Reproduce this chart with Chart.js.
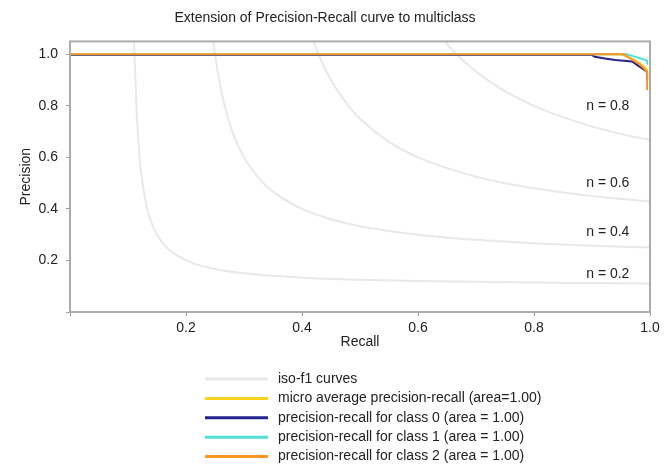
<!DOCTYPE html>
<html>
<head>
<meta charset="utf-8">
<script src="https://cdn.jsdelivr.net/npm/chart.js@4.4.0/dist/chart.umd.min.js"></script>
<style>
  body { margin: 0; background: #fff; }
  #wrap { width: 672px; height: 473px; }
</style>
</head>
<body>
<div id="wrap"><canvas id="prChart" width="672" height="473"></canvas></div>
<script>
// axis ticks
const recallTicks = [0, 0.2, 0.4, 0.6, 0.8, 1.0];
const precisionTicks = [0, 0.2, 0.4, 0.6, 0.8, 1.0];

// iso-f1 reference curves (recall / precision pairs)
const isoF1Values = [0.2, 0.4, 0.6, 0.8];
const iso02Recall = [0.1105, 0.115, 0.12, 0.125, 0.133, 0.14, 0.15, 0.167, 0.2, 0.25, 0.3, 0.4, 0.5, 0.6, 0.7, 0.8, 0.9, 1.0];
const iso02Precision = [1.05, 0.77, 0.6, 0.5, 0.4, 0.35, 0.3, 0.25, 0.2, 0.167, 0.15, 0.133, 0.125, 0.12, 0.117, 0.114, 0.1125, 0.111];
const iso04Recall = [0.247, 0.25, 0.26, 0.27, 0.28, 0.3, 0.33, 0.35, 0.4, 0.45, 0.5, 0.6, 0.7, 0.8, 0.9, 1.0];
const iso04Precision = [1.05, 1.0, 0.867, 0.771, 0.7, 0.6, 0.508, 0.467, 0.4, 0.36, 0.333, 0.3, 0.28, 0.267, 0.257, 0.25];
const iso06Recall = [0.42, 0.43, 0.45, 0.48, 0.5, 0.55, 0.6, 0.7, 0.8, 0.9, 1.0];
const iso06Precision = [1.05, 0.992, 0.9, 0.8, 0.75, 0.66, 0.6, 0.525, 0.48, 0.45, 0.429];
const iso08Recall = [0.646, 0.66, 0.7, 0.75, 0.8, 0.85, 0.9, 0.95, 1.0];
const iso08Precision = [1.05, 1.015, 0.933, 0.857, 0.8, 0.756, 0.72, 0.691, 0.667];

// iso-f1 annotation text and where it sits
const isoLabels = ['n = 0.2', 'n = 0.4', 'n = 0.6', 'n = 0.8'];
const isoLabelRecall = [0.89, 0.89, 0.89, 0.89];
const isoLabelPrecision = [0.145, 0.31, 0.50, 0.80];

// precision-recall curves
const microRecall = [0, 0.95, 0.962, 0.975, 0.988, 0.995, 0.995];
const microPrecision = [1.0, 1.0, 0.99, 0.975, 0.955, 0.94, 0.91];
const class0Recall = [0, 0.9, 0.905, 0.922, 0.94, 0.969, 0.98, 0.99, 0.995, 0.995];
const class0Precision = [0.997, 0.997, 0.99, 0.984, 0.978, 0.972, 0.955, 0.94, 0.93, 0.9];
const class1Recall = [0, 0.96, 0.975, 0.99, 0.995, 0.995];
const class1Precision = [1.0, 1.0, 0.99, 0.98, 0.975, 0.96];
const class2Recall = [0, 0.955, 0.965, 0.98, 0.99, 0.995, 0.995];
const class2Precision = [1.0, 1.0, 0.985, 0.965, 0.945, 0.93, 0.86];

const FONT = '"Liberation Sans", Arial, sans-serif';

function toPoints(xs, ys) {
  return xs.map((x, i) => ({ x: x, y: ys[i] }));
}

// Chart.js paints lower `order` on top, so later curves get smaller numbers
const isoColor = '#e8e8e8';
const isoSets = [
  [iso02Recall, iso02Precision],
  [iso04Recall, iso04Precision],
  [iso06Recall, iso06Precision],
  [iso08Recall, iso08Precision]
].map((pair, i) => ({
  label: 'iso-f1 curves',
  data: toPoints(pair[0], pair[1]),
  borderColor: isoColor,
  borderWidth: 2,
  cubicInterpolationMode: 'monotone',
  order: 10,
  showInLegend: i === 0
}));

const prSets = [
  { label: 'micro average precision-recall (area=1.00)', data: toPoints(microRecall, microPrecision), borderColor: '#f8d41c', order: 4 },
  { label: 'precision-recall for class 0 (area = 1.00)', data: toPoints(class0Recall, class0Precision), borderColor: '#23238f', order: 3 },
  { label: 'precision-recall for class 1 (area = 1.00)', data: toPoints(class1Recall, class1Precision), borderColor: '#4fe0d6', order: 2 },
  { label: 'precision-recall for class 2 (area = 1.00)', data: toPoints(class2Recall, class2Precision), borderColor: '#fb9626', order: 1 }
].map(d => Object.assign(d, { borderWidth: 2, tension: 0, showInLegend: true }));

// frame around the plot, iso-f1 annotations and the stacked legend
const decorations = {
  id: 'decorations',
  afterDatasetsDraw(chart) {
    const c = chart.ctx;
    const a = chart.chartArea;
    const xs = chart.scales.x, ys = chart.scales.y;

    c.save();
    c.font = '14px ' + FONT;
    c.fillStyle = '#222';
    c.textBaseline = 'middle';
    c.textAlign = 'left';
    isoLabels.forEach((t, i) => {
      c.fillText(t, xs.getPixelForValue(isoLabelRecall[i]), ys.getPixelForValue(isoLabelPrecision[i]));
    });

    c.strokeStyle = '#ababab';
    c.lineWidth = 2;
    c.strokeRect(a.left, a.top, a.right - a.left, a.bottom - a.top);

    // legend
    let y = 379;
    chart.data.datasets.forEach(ds => {
      if (!ds.showInLegend) return;
      c.strokeStyle = ds.borderColor;
      c.lineWidth = 3;
      c.beginPath();
      c.moveTo(205, y);
      c.lineTo(268, y);
      c.stroke();
      c.fillStyle = '#222';
      c.fillText(ds.label, 278, y);
      y += 19.4;
    });
    c.restore();
  }
};

const ctx = document.getElementById('prChart').getContext('2d');
const prChart = new Chart(ctx, {
  type: 'line',
  data: { datasets: isoSets.concat(prSets) },
  options: {
    responsive: false,
    animation: false,
    layout: { padding: { left: 0, right: 22, top: 0, bottom: 120 } },
    elements: { point: { radius: 0 } },
    plugins: {
      legend: { display: false },
      tooltip: { enabled: false },
      title: {
        display: true,
        text: 'Extension of Precision-Recall curve to multiclass',
        color: '#222',
        font: { family: FONT, size: 14, weight: 'normal' },
        padding: { top: 10, bottom: 14.6 }
      }
    },
    scales: {
      x: {
        type: 'linear',
        min: 0,
        max: 1,
        afterBuildTicks: s => { s.ticks = recallTicks.map(v => ({ value: v })); },
        afterFit: s => { s.height = 41; },
        ticks: {
          color: '#222',
          font: { family: FONT, size: 14 },
          padding: 4,
          maxRotation: 0,
          callback: v => (v === 0 ? '' : v.toFixed(1))
        },
        grid: { drawOnChartArea: false, drawTicks: true, tickLength: 4, color: '#999' },
        border: { display: false },
        title: {
          display: true,
          text: 'Recall',
          color: '#222',
          font: { family: FONT, size: 14 },
          padding: { top: 0, bottom: 2 }
        }
      },
      y: {
        type: 'linear',
        min: 0,
        max: 1.05,
        afterBuildTicks: s => { s.ticks = precisionTicks.map(v => ({ value: v })); },
        afterFit: s => { s.width = 70; },
        ticks: {
          color: '#222',
          font: { family: FONT, size: 14 },
          padding: 8,
          callback: v => (v === 0 ? '' : v.toFixed(1))
        },
        grid: { drawOnChartArea: false, drawTicks: true, tickLength: 4, color: '#999' },
        border: { display: false },
        title: {
          display: true,
          text: 'Precision',
          color: '#222',
          font: { family: FONT, size: 14 },
          padding: { top: 18, bottom: 0 }
        }
      }
    }
  },
  plugins: [decorations]
});
</script>
</body>
</html>
